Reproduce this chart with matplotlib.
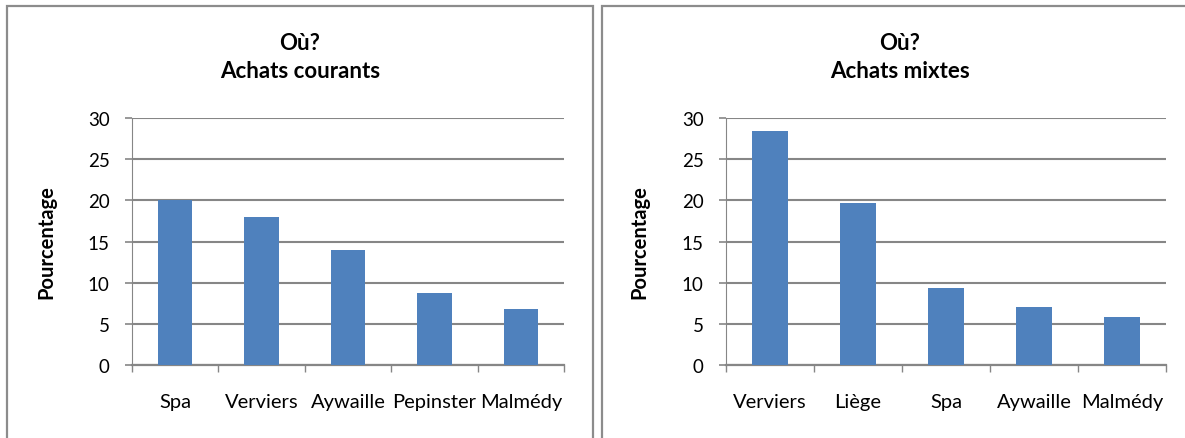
import matplotlib
matplotlib.use("Agg")
import matplotlib.pyplot as plt
from matplotlib.patches import Rectangle

plt.rcParams["font.family"] = ["Lato", "DejaVu Sans"]

courants_lieux = ["Spa", "Verviers", "Aywaille", "Pepinster", "Malmédy"]
courants_pct = [20.1, 18.0, 14.0, 8.7, 6.8]

mixtes_lieux = ["Verviers", "Liège", "Spa", "Aywaille", "Malmédy"]
mixtes_pct = [28.4, 19.7, 9.3, 7.0, 5.8]

W, H = 1185, 439
bar_color = "#4f81bd"
grid_color = "#868686"


def px_axes(fig, x0, y0, x1, y1):
    # pixel box (top-left origin) -> figure fraction axes
    return fig.add_axes([x0 / W, 1 - y1 / H, (x1 - x0) / W, (y1 - y0) / H])


def draw_panel(ax, labels, values, subtitle, cx):
    x = range(len(labels))
    ax.bar(x, values, width=0.4, color=bar_color, zorder=3)
    ax.set_xlim(-0.5, len(labels) - 0.5)
    ax.set_ylim(0, 30)
    ax.set_yticks(range(0, 31, 5))
    ax.yaxis.grid(True, color=grid_color, linewidth=1.5, zorder=0)
    for s in ["top", "right"]:
        ax.spines[s].set_visible(False)
    ax.spines["left"].set_color(grid_color)
    ax.spines["bottom"].set_color(grid_color)
    ax.spines["bottom"].set_linewidth(1.6)
    ax.tick_params(axis="y", length=5, color=grid_color, width=1.2,
                   pad=11, labelsize=13.5)
    ax.set_xticks(list(x))
    ax.set_xticklabels(labels)
    ax.tick_params(axis="x", length=0, pad=20, labelsize=14.5)
    ax.set_xticks([i - 0.5 for i in range(len(labels) + 1)], minor=True)
    ax.tick_params(axis="x", which="minor", length=5, color=grid_color,
                   width=1.0, direction="out")
    ax.set_ylabel("Pourcentage", fontsize=14.5, fontweight="bold")
    ax.yaxis.set_label_coords(-0.175, 0.5)
    fig.text(cx / W, 1 - 43 / H, "Où?", ha="center", va="center",
             fontsize=16, fontweight="bold")
    fig.text(cx / W, 1 - 72 / H, subtitle, ha="center", va="center",
             fontsize=16, fontweight="bold")


fig = plt.figure(figsize=(W / 100, H / 100), dpi=100)

# chart frames
fig.patches.append(Rectangle((7 / W, -0.1), (593 - 7) / W, 1.1 - 7 / H,
                             transform=fig.transFigure, fill=False,
                             edgecolor="#8c8c8c", linewidth=1.6))
fig.patches.append(Rectangle((602 / W, -0.1), 0.6, 1.1 - 7 / H,
                             transform=fig.transFigure, fill=False,
                             edgecolor="#8c8c8c", linewidth=1.6))

ax1 = px_axes(fig, 132, 119, 564, 366)
draw_panel(ax1, courants_lieux, courants_pct, "Achats courants", 300)

ax2 = px_axes(fig, 726, 119, 1166, 366)
draw_panel(ax2, mixtes_lieux, mixtes_pct, "Achats mixtes", 900)

fig.savefig("out.png", dpi=100)
